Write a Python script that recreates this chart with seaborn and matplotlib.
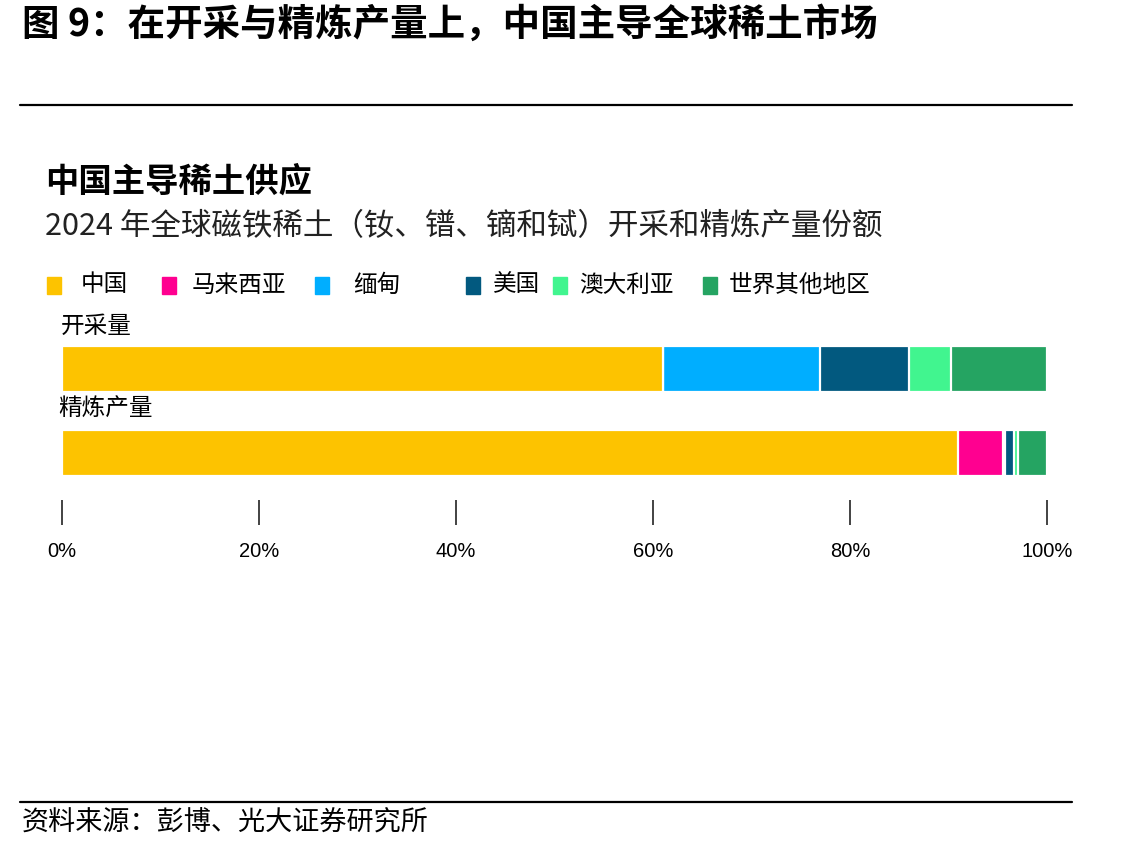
import pandas as pd
import seaborn as sns
import matplotlib.pyplot as plt
from matplotlib.patches import Rectangle
from matplotlib.lines import Line2D

# Data: 2024 magnet rare earth share (%)
countries = ['中国', '马来西亚', '缅甸', '美国', '澳大利亚', '世界其他地区']
colors = ['#FDC300', '#FF0090', '#00AEFF', '#02597F', '#41F58F', '#25A462']
rows = ['开采量', '精炼产量']
mining = [61.0, 0.0, 16.0, 9.0, 4.3, 9.7]
refining = [91.0, 4.5, 0.2, 1.0, 0.4, 2.9]
ticks = [0, 20, 40, 60, 80, 100]
tick_labels = ['0%', '20%', '40%', '60%', '80%', '100%']

sns.set_theme(style="white")
plt.rcParams['font.family'] = ['Noto Sans CJK SC', 'DejaVu Sans']
plt.rcParams['text.color'] = 'black'
plt.rcParams['xtick.color'] = 'black'

df = pd.DataFrame({'row': rows})
for i, c in enumerate(countries):
    df[c] = [sum(mining[:i + 1]), sum(refining[:i + 1])]

fig = plt.figure(figsize=(11.42, 8.5), dpi=100)
W, H = 1142, 850

def fx(px):
    return px / W

def fy(py):
    return 1 - py / H

ax = fig.add_axes([fx(62), fy(500), fx(985), 165 / H])

# stacked bars: draw cumulative totals from longest to shortest
for c, col in zip(countries[::-1], colors[::-1]):
    sns.barplot(data=df, x=c, y='row', orient='h', color=col, width=0.548,
                edgecolor='white', linewidth=1.6, saturation=1, ax=ax)

ax.set_xlim(0, 100)
ax.set_ylim(1.56, -0.405)
ax.set_xticks(ticks)
ax.set_xticklabels(tick_labels, family=['Liberation Sans', 'DejaVu Sans'], fontsize=14.5)
ax.tick_params(axis='x', bottom=True, length=18, width=1.2, color='#222222', pad=12)
ax.set_yticks([])
ax.set_xlabel('')
ax.set_ylabel('')
for s in ax.spines.values():
    s.set_visible(False)

# row labels above bars
ax.text(-0.1, -0.51, '开采量', fontsize=17, va='center', ha='left')
ax.text(-0.35, 0.465, '精炼产量', fontsize=17, va='center', ha='left')

# headings
fig.text(fx(22), fy(24), '图 9：在开采与精炼产量上，中国主导全球稀土市场',
         fontsize=27, fontweight='bold', va='center', ha='left')
fig.add_artist(Line2D([fx(20), fx(1072)], [fy(105), fy(105)], color='black', lw=1.6))
fig.text(fx(45), fy(182), '中国主导稀土供应', fontsize=24, fontweight='bold',
         va='center', ha='left')
fig.text(fx(45), fy(227), '2024 年全球磁铁稀土（钕、镨、镝和铽）开采和精炼产量份额',
         fontsize=22, va='center', ha='left', color='#222222')

# legend
marker_x = [47, 162, 315, 466, 553, 703]
text_x = [81, 192, 353, 493, 579, 729]
for c, col, mx, tx in zip(countries, colors, marker_x, text_x):
    fig.add_artist(Rectangle((fx(mx), fy(294)), fx(14), 17 / H, color=col,
                             transform=fig.transFigure))
    fig.text(fx(tx), fy(285), c, fontsize=17, va='center', ha='left')

# footer
fig.add_artist(Line2D([fx(20), fx(1072)], [fy(802), fy(802)], color='black', lw=1.6))
fig.text(fx(22), fy(822), '资料来源：彭博、光大证券研究所', fontsize=19.5,
         va='center', ha='left')

fig.savefig('out.png', dpi=100, facecolor='white')
